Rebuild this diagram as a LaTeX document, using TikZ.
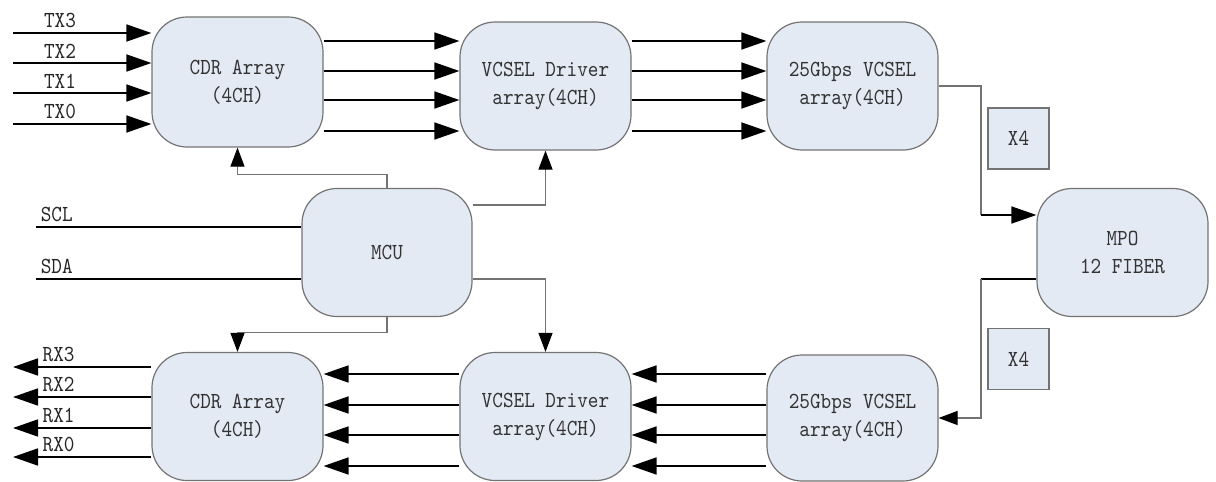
\documentclass[tikz,border=0pt]{standalone}
\usepackage{fontspec}
\newfontfamily\boxfont{lmmono10-regular.otf}[FakeStretch=0.88]
\usetikzlibrary{arrows.meta,backgrounds}
\definecolor{boxfill}{HTML}{E4EAF4}
\begin{document}
\begin{tikzpicture}[x=0.5pt,y=-0.5pt,
    blk/.style={draw=black!55,fill=boxfill,line width=0.6pt,rounded corners=17.5pt,
        minimum width=85.5pt,minimum height=64pt,inner sep=0pt,align=center,
        text=black!80,font=\boxfont\fontsize{11.5}{14}\selectfont},
    xbox/.style={draw=black!55,fill=boxfill,line width=0.6pt,minimum size=30.5pt,
        inner sep=0pt,text=black!80,font=\boxfont\fontsize{11.5}{14}\selectfont},
    lbl/.style={text=black!85,font=\boxfont\fontsize{11.5}{12}\selectfont,inner sep=2pt},
    bus/.style={line width=0.85pt,-{Triangle[length=12.5pt,width=8.5pt]}},
    wire/.style={line width=0.85pt},
    ctl/.style={draw=black!55,line width=0.55pt,-{Triangle[length=9.5pt,width=7pt,color=black]}},
    thinl/.style={draw=black!55,line width=0.55pt}]
    \useasboundingbox (0,0) rectangle (1216,482);
    % blocks
    \node[blk,minimum height=65pt] (CDRT) at (237.5,82) {CDR Array\\(4CH)};
    \node[blk] (DRVT) at (545.5,86) {VCSEL Driver\\array(4CH)};
    \node[blk] (VCT) at (852.5,86) {25Gbps VCSEL\\array(4CH)};
    \node[blk,minimum width=85pt] (MCU) at (387,252.5) {MCU};
    \node[blk] (MPO) at (1122.5,252.5) {MPO\\12 FIBER};
    \node[blk] (CDRB) at (237.5,416.5) {CDR Array\\(4CH)};
    \node[blk] (DRVB) at (545.5,416.5) {VCSEL Driver\\array(4CH)};
    \node[blk,minimum height=63pt] (VCB) at (852.5,418) {25Gbps VCSEL\\array(4CH)};
    \node[xbox] (XT) at (1018.5,138.5) {X4};
    \node[xbox] (XB) at (1018.5,359) {X4};
    % transmit side
    \foreach \y/\n in {33/3,63/2,93/1,124/0}{
        \coordinate (TX\n) at (13,\y);
        \draw[bus] (TX\n) -- node[lbl,above,pos=0.34] {TX\n} (CDRT.west |- TX\n);
    }
    \foreach \y in {41,71,100,131}{
        \draw[bus] (CDRT.east |- 0,\y) -- (DRVT.west |- 0,\y);
        \draw[bus] (DRVT.east |- 0,\y) -- (VCT.west |- 0,\y);
    }
    % receive side
    \foreach \y/\n in {367/3,397/2,428/1,457/0}{
        \coordinate (RX\n) at (13,\y);
        \draw[bus] (CDRB.west |- RX\n) -- node[lbl,above,pos=0.67] {RX\n} (RX\n);
    }
    \foreach \y in {374,405,435,466}{
        \draw[bus] (DRVB.west |- 0,\y) -- (CDRB.east |- 0,\y);
        \draw[bus] (VCB.west |- 0,\y) -- (DRVB.east |- 0,\y);
    }
    % management bus
    \coordinate (SCL) at (36,227);
    \coordinate (SDA) at (36,279);
    \draw[wire] (SCL) node[lbl,above right] {SCL} -- (MCU.west |- SCL);
    \draw[wire] (SDA) node[lbl,above right] {SDA} -- (MCU.west |- SDA);
    \begin{scope}[on background layer]
        \draw[ctl] (MCU.north) -- ++(0,-13) -| (CDRT.south);
        \draw[ctl] (MCU.east |- 0,205) -| (DRVT.south);
        \draw[ctl] (MCU.east |- 0,279) -| (DRVB.north);
        \draw[ctl] (MCU.south) -- ++(0,15) -| (CDRB.north);
    \end{scope}
    % fiber
    \coordinate (JT) at (981,215);
    \coordinate (JB) at (981,279);
    \draw[thinl] (VCT.east) -| (JT);
    \draw[bus] (JT) -- (MPO.west |- JT);
    \draw[wire] (MPO.west |- JB) -- (JB);
    \draw[ctl] (JB) |- (VCB.east);
\end{tikzpicture}
\end{document}
